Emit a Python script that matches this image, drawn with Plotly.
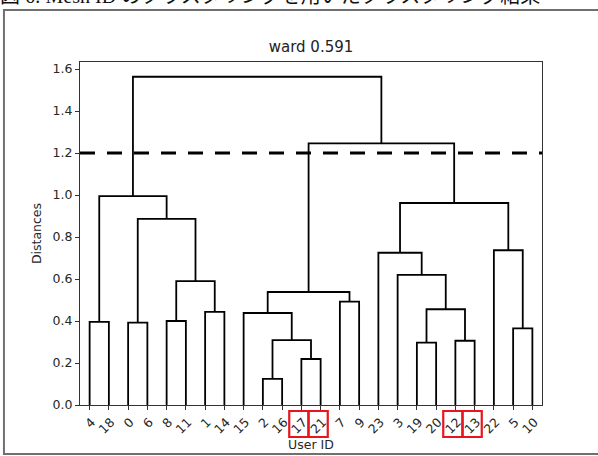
import plotly.graph_objects as go

# ---------------- data ----------------
leaf_labels = ["4", "18", "0", "6", "8", "11", "1", "14", "15", "2", "16", "17",
               "21", "7", "9", "23", "3", "19", "20", "12", "13", "22", "5", "10"]

# merges: (left child, right child, height); children are leaf labels or "cN"
merge_left = ["2", "17", "19", "12", "c0", "5", "0", "4", "8", "15", "1", "c2",
              "7", "c9", "c8", "3", "23", "22", "c6", "c16", "c7", "c13", "c20"]
merge_right = ["16", "21", "20", "13", "c1", "10", "6", "18", "11", "c4", "14", "c3",
               "9", "c12", "c10", "c11", "c15", "c5", "c14", "c17", "c18", "c19", "c21"]
merge_height = [0.124, 0.219, 0.297, 0.306, 0.309, 0.365, 0.392, 0.396, 0.400, 0.438,
                0.443, 0.456, 0.492, 0.538, 0.590, 0.620, 0.725, 0.737, 0.886, 0.962,
                0.995, 1.246, 1.563]

threshold = 1.2
title_text = "ward 0.591"
highlight_labels = ["17", "21", "12", "13"]
caption_text = "図 6: Mesh ID のクラスタリングを用いたクラスタリング結果"

# ---------------- geometry of dendrogram (scipy style: leaves at 5, 15, ...) ----------------
pos = {lab: 10 * i + 5 for i, lab in enumerate(leaf_labels)}
hgt = {lab: 0.0 for lab in leaf_labels}
xs, ys = [], []
for k, (a, b, h) in enumerate(zip(merge_left, merge_right, merge_height)):
    xa, xb = pos[a], pos[b]
    xs += [xa, xa, xb, xb, None]
    ys += [hgt[a], h, h, hgt[b], None]
    pos[f"c{k}"] = (xa + xb) / 2
    hgt[f"c{k}"] = h

ymax = max(merge_height) * 1.045
xmax = 10 * len(leaf_labels)

W, H = 598, 456
L, R, T, B = 80, 541.7, 62, 405


def px_to_paper_x(px):
    return (px - L) / (R - L)


def px_to_paper_y(py):
    return (B - py) / (B - T)


fig = go.Figure()
fig.add_trace(go.Scatter(x=xs, y=ys, mode="lines",
                         line=dict(color="black", width=1.8),
                         hoverinfo="skip", showlegend=False))

shapes = []
# threshold dashed line
shapes.append(dict(type="line", xref="paper", x0=0, x1=1, yref="y", y0=threshold, y1=threshold,
                   line=dict(color="black", width=3, dash="15px,12px")))
# red boxes around highlighted labels
for lab in highlight_labels:
    cx = pos[lab]
    shapes.append(dict(type="rect", xref="x", x0=cx - 6.3, x1=cx + 3.7,
                       yref="paper", y0=px_to_paper_y(437), y1=px_to_paper_y(411),
                       line=dict(color="#e8141e", width=2.2), fillcolor="rgba(0,0,0,0)"))
# outer page frame
shapes.append(dict(type="rect", xref="paper", yref="paper",
                   x0=px_to_paper_x(4), x1=px_to_paper_x(640),
                   y0=px_to_paper_y(454), y1=px_to_paper_y(10),
                   line=dict(color="#707070", width=2), fillcolor="rgba(0,0,0,0)", layer="below"))

annotations = [
    dict(text=caption_text, xref="paper", yref="paper", x=px_to_paper_x(-2), y=px_to_paper_y(-4),
         xanchor="left", yanchor="middle", showarrow=False,
         font=dict(family="Liberation Serif, Noto Sans CJK JP", size=20, color="#111")),
]

fig.update_layout(
    width=W, height=H,
    margin=dict(l=L, r=W - R, t=T, b=H - B, pad=0, autoexpand=False),
    paper_bgcolor="white", plot_bgcolor="white",
    title=dict(text=title_text, x=0.5, xref="paper", xanchor="center",
               y=1 - 47 / H, yanchor="middle",
               font=dict(family="DejaVu Sans", size=15, color="#222")),
    shapes=shapes,
    annotations=annotations,
    font=dict(family="DejaVu Sans", size=12.5, color="#262626"),
    xaxis=dict(range=[0, xmax], tickmode="array",
               tickvals=[10 * i + 5 for i in range(len(leaf_labels))],
               ticktext=leaf_labels, tickangle=-45, automargin=False,
               ticklabelshift=2, ticklabelstandoff=0,
               ticks="outside", ticklen=4, tickcolor="#333",
               showgrid=False, zeroline=False, showline=True, linecolor="#333",
               linewidth=1, mirror=True,
               title=dict(text="User ID", standoff=0, font=dict(size=12.5))),
    yaxis=dict(range=[0, ymax], tickmode="array",
               tickvals=[0.0, 0.2, 0.4, 0.6, 0.8, 1.0, 1.2, 1.4, 1.6],
               tickformat=".1f", automargin=False,
               ticks="outside", ticklen=4, tickcolor="#333",
               showgrid=False, zeroline=False, showline=True, linecolor="#333",
               linewidth=1, mirror=True,
               title=dict(text="Distances", standoff=8, font=dict(size=12.5))),
)

fig.write_html("out.html",
               config={"displayModeBar": False},
               post_script="document.body.style.margin='0';document.body.style.overflow='hidden';")
